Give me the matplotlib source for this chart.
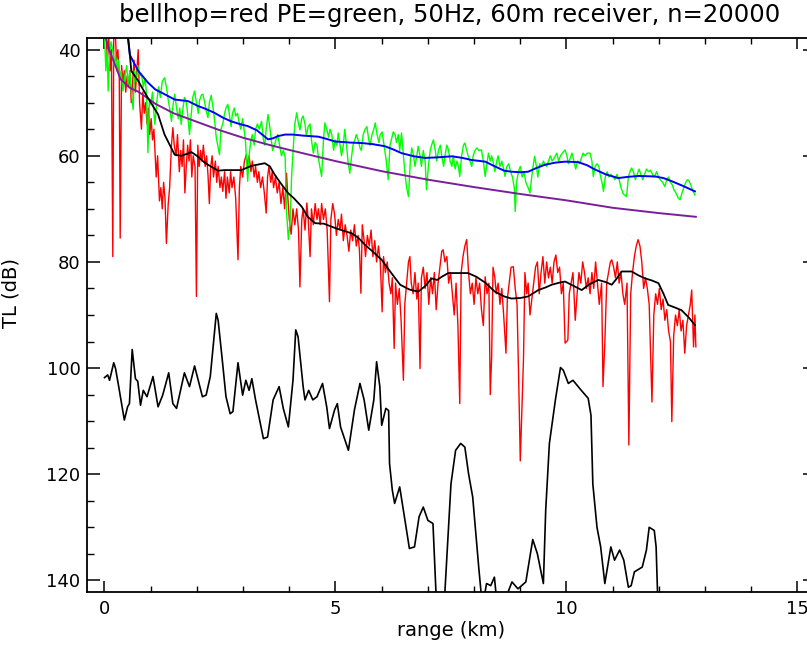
import matplotlib
matplotlib.use("Agg")
import matplotlib.pyplot as plt
from matplotlib.ticker import MultipleLocator

# ---------------- data ----------------
red_km = [0.00,0.03,0.06,0.09,0.12,0.15,0.18,0.20,0.23,0.26,0.29,0.32,0.34,0.37,0.40,0.43,0.46,0.49,0.52,0.55,
          0.58,0.61,0.64,0.67,0.70,0.73,0.76,0.80,0.83,0.86,0.89,0.92,0.95,0.98,1.01,1.04,1.07,1.09,1.12,1.15,
          1.19,1.22,1.25,1.28,1.31,1.34,1.38,1.41,1.45,1.48,1.51,1.55,1.58,1.62,1.65,1.68,1.71,1.74,1.77,1.80,
          1.83,1.86,1.89,1.92,1.96,1.99,2.02,2.05,2.08,2.11,2.14,2.18,2.21,2.24,2.27,2.30,2.33,2.36,2.40,2.43,
          2.46,2.50,2.53,2.56,2.60,2.63,2.66,2.70,2.73,2.76,2.80,2.84,2.89,2.92,2.95,2.99,3.03,3.07,3.10,3.13,
          3.17,3.20,3.24,3.27,3.31,3.34,3.38,3.42,3.46,3.50,3.53,3.56,3.60,3.63,3.66,3.70,3.74,3.78,3.82,3.86,
          3.90,3.94,3.97,4.00,4.04,4.08,4.12,4.16,4.20,4.23,4.27,4.30,4.34,4.38,4.41,4.45,4.48,4.52,4.56,4.60,
          4.63,4.67,4.70,4.74,4.78,4.82,4.87,4.90,4.94,4.98,5.02,5.06,5.10,5.13,5.17,5.21,5.25,5.29,5.33,5.37,
          5.41,5.45,5.49,5.52,5.55,5.58,5.62,5.65,5.69,5.73,5.77,5.81,5.85,5.89,5.93,5.97,6.01,6.04,6.08,6.12,
          6.16,6.20,6.23,6.27,6.30,6.34,6.38,6.42,6.47,6.50,6.54,6.58,6.61,6.64,6.68,6.72,6.76,6.79,6.83,6.86,
          6.90,6.94,6.98,7.02,7.06,7.10,7.14,7.18,7.22,7.26,7.30,7.33,7.37,7.41,7.45,7.49,7.53,7.57,7.61,7.65,
          7.69,7.72,7.76,7.80,7.84,7.88,7.92,7.96,8.00,8.04,8.08,8.12,8.16,8.20,8.24,8.28,8.32,8.35,8.38,8.41,
          8.45,8.48,8.52,8.56,8.60,8.64,8.69,8.72,8.76,8.80,8.85,8.89,8.93,8.97,9.00,9.04,9.07,9.10,9.14,9.17,
          9.21,9.25,9.29,9.33,9.37,9.41,9.45,9.49,9.53,9.57,9.61,9.65,9.69,9.73,9.77,9.81,9.85,9.89,9.93,9.97,
          10.03,10.06,10.10,10.14,10.19,10.23,10.27,10.31,10.35,10.39,10.43,10.47,10.51,10.55,10.59,10.63,10.67,10.71,10.76,10.79,
          10.83,10.87,10.91,10.95,10.98,11.02,11.06,11.10,11.14,11.18,11.22,11.26,11.31,11.35,11.39,11.43,11.47,11.51,11.55,11.59,
          11.63,11.67,11.71,11.75,11.79,11.85,11.89,11.93,11.97,12.01,12.05,12.09,12.13,12.17,12.21,12.25,12.28,12.32,12.36,12.40,
          12.44,12.48,12.52,12.56,12.60,12.64,12.68,12.71,12.75,12.78,12.80]
red_tl = [38,36,42,37,44,40,79,38,36,42,40,45,75.5,43,46,44,48,45,47,44,
          50,46,42,48,44,40,50,55,48,52,50,54,51,56,53,57,55,58.5,64,60,
          68.5,66,70,65,68,76.5,69,66,58,54.7,58,60,56,63,59,62,57,67,62,58,
          61,57,64,60,62,86.5,58,62,59,61,58,62,60,63.5,69,62,60,64,61,65,
          62,66,64,66.7,63,68,64,67,63,66,64,68,79.6,66,62,64,61,59.8,62,60,
          63,61,64,62,65,63,66,64,67,70.8,64,62,65,63,66,64,67,65,69,66,
          70,63.3,68,72,74.8,70,73,70,74,84.7,72,70,74,68.9,72,79,70,73,69,72,
          70,73,69,72,70,74,87.5,72,69,71,75,72,74,71,76,73,75,78,74,76,
          73,77,75,78,85.9,73,76,79,75,77,74,79,76,80,77,80,89.4,79,82,80,
          84,86,83,96.3,84,88,85,91,102.3,88,84,80,79,84,86,82,87,84,100.1,83,
          81,85,82,88,83,86,82,89,84,81,78,77.7,80,79,84,82,86,90,84,92,
          106.7,82,79,77,75.8,82,86,84,88,83,86,84,89,92,82.8,86,84,105,97.9,81,
          83,86,84,88,85,90,97.2,87,84,81,80.9,85,88,104.2,117.5,106.7,98,82,86,84,
          90,87,84,81,80,86,82,79,84,80,83,81,84,80,78.7,82,81,86,84,95.3,
          94.7,86,84,82,91,86,82,84,80,82,85,83,86,82,85,80,84,88,84,103.5,
          95.3,84,82,80,79.6,81,83,80,84,82,86,88,84,114.5,86,82,79,77,75.8,77,
          80,85,83,85,88,106.4,90,86,88,85,89,87,91,89,93,95,110.1,94,90,92,
          89,93,91,97.2,92,90,88,85.3,96,90,96]

green_km = [0.00,0.03,0.06,0.08,0.11,0.14,0.18,0.21,0.24,0.27,0.30,0.33,0.36,0.40,0.44,0.48,0.51,0.55,0.58,0.62,
            0.65,0.69,0.72,0.76,0.80,0.84,0.88,0.91,0.94,0.97,1.00,1.04,1.07,1.09,1.13,1.17,1.21,1.25,1.30,1.34,
            1.38,1.41,1.45,1.49,1.52,1.56,1.60,1.63,1.66,1.70,1.73,1.77,1.81,1.84,1.88,1.91,1.95,1.99,2.03,2.06,
            2.10,2.13,2.17,2.20,2.24,2.27,2.31,2.35,2.38,2.42,2.45,2.49,2.52,2.56,2.60,2.63,2.67,2.70,2.74,2.77,
            2.81,2.84,2.88,2.92,2.95,2.99,3.02,3.05,3.10,3.13,3.17,3.20,3.24,3.27,3.31,3.35,3.40,3.44,3.47,3.50,
            3.54,3.57,3.61,3.64,3.68,3.71,3.75,3.79,3.83,3.87,3.91,3.94,3.98,4.02,4.05,4.09,4.12,4.16,4.20,4.23,
            4.27,4.30,4.34,4.37,4.41,4.45,4.48,4.52,4.56,4.60,4.64,4.70,4.74,4.77,4.81,4.85,4.88,4.92,4.96,4.99,
            5.03,5.06,5.10,5.13,5.17,5.20,5.24,5.27,5.31,5.35,5.38,5.42,5.45,5.49,5.53,5.56,5.60,5.64,5.68,5.72,
            5.75,5.79,5.83,5.86,5.90,5.94,5.97,6.01,6.05,6.10,6.14,6.18,6.21,6.25,6.29,6.32,6.36,6.39,6.43,6.47,
            6.50,6.54,6.58,6.62,6.65,6.69,6.72,6.76,6.79,6.83,6.86,6.90,6.94,6.97,7.01,7.05,7.08,7.12,7.16,7.19,
            7.23,7.27,7.30,7.34,7.37,7.41,7.45,7.48,7.52,7.55,7.59,7.63,7.66,7.69,7.73,7.77,7.80,7.84,7.87,7.91,
            7.95,7.98,8.02,8.06,8.10,8.16,8.20,8.24,8.27,8.31,8.35,8.38,8.42,8.45,8.49,8.52,8.56,8.60,8.64,8.67,
            8.71,8.75,8.79,8.83,8.87,8.89,8.92,8.96,9.00,9.04,9.08,9.12,9.17,9.21,9.26,9.31,9.35,9.38,9.42,9.46,
            9.50,9.53,9.57,9.61,9.65,9.69,9.73,9.79,9.83,9.87,9.91,9.97,10.01,10.04,10.08,10.12,10.16,10.20,10.24,10.28,
            10.32,10.36,10.40,10.45,10.51,10.55,10.58,10.62,10.66,10.70,10.74,10.78,10.80,10.84,10.88,10.92,10.96,11.01,11.05,11.09,
            11.14,11.18,11.23,11.27,11.30,11.34,11.38,11.41,11.45,11.49,11.53,11.57,11.61,11.65,11.69,11.73,11.78,11.82,11.86,11.90,
            11.95,11.99,12.03,12.08,12.13,12.17,12.21,12.25,12.29,12.33,12.37,12.42,12.46,12.50,12.54,12.58,12.62,12.65,12.69,12.73,
            12.78]
green_tl = [37,44,40,47.8,41,38.5,40.2,43,41,44,42,45,44,47.8,45,43,46.5,44,48,51.3,
            44,46,43,45,44.6,47,45.5,48.4,59.4,50,50.3,48,52,54.1,50,47,49,46,45.3,47,
            49.5,51,53.5,50,48.4,51,53,51,54.1,51,49,49.7,53,56.0,52,49,47.8,50,52,49.5,
            48.5,48.4,50,51.5,52.8,50,48.6,51,53,56.6,58,59.8,55,54,52,51,50.3,52,54.5,52,
            51,52.5,52,54,55,53,55,57,64.8,60,57,56,58,55,54,55,53.5,57,58,55,
            52.2,54,57,59,58,57,56,58,60,59,60.1,70.4,75.8,72,63.9,58,54,51.9,54,55.1,
            53,52.5,54,56.2,54.5,54,57,59.5,57.5,58,61,63.9,57,53.8,55,56.5,55,56,59,57,
            58,55.7,58,60,58,55.0,58,61,63.3,60,58,57,56,57,58.5,59,56,55,54.5,57,
            58,56,55,53.8,56,57.5,56,55.5,58,61,64.5,58,57,55.5,56,57.5,56,59,55.7,60,
            63,66,67.7,61,58.5,60,62,60,58.2,60,62,59,61,66.4,62,59,58,57,59,61,
            59,58,60,62,60,58,59,61,62,60,62.5,61,62,63.9,60,58,57.6,59,60,61,
            62,60,59,58.5,59,58.9,61,63.9,62,59.5,61,60,61.5,63,61,60,62,61,62.5,63.9,
            62,61.5,63,64,66,70.5,65,63,62,64,63,65,66,67,63,60.1,62,64,61.5,62,
            61,61.5,62,61,60,61,60.5,59.5,61,60,59.5,58.9,60,61.5,60.5,59.5,61,62.5,61,61.5,
            60.5,59.5,60,59.5,59.5,61,63.9,62,61.5,62,64,65.5,66.7,64,63,64,63.5,64,64.5,63.5,
            64.5,66,67.2,67.5,67.7,64,62.8,62.3,63,64.5,63.5,62.5,63.5,64.5,63.5,62.5,63,62.7,63.5,64,
            63,64,64.5,65,65.8,64.5,64,65,65.5,66.5,67,68,68.3,67,66,65,64.5,64.7,65.5,66.5,
            67.4]

blue_km = [0.50,0.55,0.73,0.94,1.10,1.30,1.52,1.81,2.02,2.20,2.38,2.56,2.74,2.92,3.10,3.30,3.54,3.65,3.75,3.91,
           4.08,4.30,4.63,4.80,4.99,5.30,5.57,5.80,6.07,6.25,6.43,6.70,6.94,7.20,7.52,7.75,7.95,8.24,8.45,8.65,
           8.81,9.00,9.17,9.35,9.53,9.75,9.97,10.26,10.45,10.62,10.85,11.12,11.30,11.55,11.92,12.10,12.28,12.50,12.78]
blue_tl = [37,41,44,46.2,47.5,48.4,49.4,49.7,50.6,51.2,51.9,52.8,53.5,54.0,54.4,55.2,56.9,56.7,56.3,56.0,
           56.0,56.2,56.4,56.8,57.3,57.5,57.6,57.8,58.2,58.8,59.5,60.1,60.4,60.3,60.1,60.4,60.8,61.1,62.0,62.8,
           63.0,63.1,63.0,62.3,61.7,61.3,61.1,61.2,61.8,62.6,63.5,64.2,64.0,63.8,63.9,64.2,64.8,65.6,66.7]

purple_km = [0.0,0.1,0.35,0.55,0.75,1.1,1.5,2.0,2.5,3.0,3.5,4.0,5.0,6.0,7.0,8.0,9.0,10.0,11.0,12.0,12.8]
purple_tl = [37,40,45.6,47.2,48.0,50.2,52.0,53.6,55.2,56.6,57.8,58.9,61.0,62.9,64.5,65.9,67.2,68.4,69.8,70.8,71.5]

smooth_km = [0.50,0.55,0.58,0.73,0.94,1.16,1.30,1.52,1.66,1.80,1.88,2.00,2.17,2.30,2.46,2.60,2.80,2.96,3.18,3.47,
             3.58,3.68,3.80,3.97,4.10,4.27,4.40,4.56,4.75,4.99,5.20,5.35,5.50,5.64,5.80,6.00,6.20,6.40,6.60,6.79,
             6.95,7.08,7.20,7.30,7.44,7.60,7.87,8.05,8.24,8.45,8.65,8.81,9.00,9.17,9.30,9.39,9.55,9.68,9.85,9.97,
             10.15,10.33,10.50,10.69,10.85,10.98,11.10,11.19,11.41,11.55,11.70,11.85,11.99,12.10,12.20,12.35,12.49,12.65,12.78]
smooth_tl = [37,41,44,45.9,49.1,52.2,56.0,59.8,60.0,59.6,59.3,60.0,61.3,62.0,62.8,62.7,62.7,62.7,61.9,61.4,
             62.0,63.5,65.0,67.0,68.0,69.6,71.5,72.7,72.8,73.6,74.2,74.6,75.5,76.8,78.0,79.6,82.0,84.3,85.2,85.6,
             84.5,83.1,83.4,82.8,82.1,82.1,82.1,82.8,83.9,85.6,86.5,86.9,86.8,86.5,85.8,85.3,84.8,84.3,83.9,83.7,
             84.5,85.3,84.2,83.4,83.8,84.3,83.0,81.8,81.8,82.5,83.1,83.5,84.0,86.0,88.1,88.6,89.1,90.5,91.9]

diff_km = [0.00,0.07,0.11,0.20,0.24,0.31,0.43,0.50,0.54,0.60,0.67,0.72,0.78,0.84,0.92,1.05,1.16,1.26,1.39,1.48,
           1.56,1.73,1.84,1.95,2.12,2.20,2.29,2.42,2.46,2.55,2.63,2.72,2.78,2.89,2.99,3.06,3.13,3.19,3.27,3.44,
           3.53,3.65,3.78,3.87,3.98,4.08,4.14,4.19,4.30,4.34,4.42,4.51,4.60,4.72,4.81,4.87,4.98,5.04,5.11,5.28,
           5.41,5.53,5.62,5.72,5.83,5.89,5.96,6.00,6.09,6.15,6.17,6.23,6.28,6.39,6.47,6.60,6.71,6.81,6.90,7.00,
           7.11,7.17,7.22,7.33,7.37,7.50,7.60,7.71,7.80,7.88,7.97,8.10,8.18,8.27,8.36,8.44,8.48,8.60,8.70,8.82,
           8.95,9.12,9.27,9.37,9.50,9.55,9.63,9.76,9.87,9.93,10.04,10.14,10.32,10.47,10.53,10.57,10.66,10.74,10.83,10.96,
           11.04,11.15,11.24,11.34,11.40,11.47,11.64,11.73,11.79,11.90,11.94,11.96,12.00]
diff_tl = [101.8,101.3,102.3,99.0,100.1,103.6,109.8,107.3,106.7,96.5,102.0,102.5,107.0,104.2,105.4,101.6,107.3,105.1,100.9,106.7,
           107.6,100.9,103.5,99.6,105.4,105.1,101.6,89.7,91.0,98.5,105.4,108.6,108.2,99.0,105.1,102.3,104.2,102.0,106.0,113.3,
           113.0,106.0,103.5,107.6,111.1,102.3,92.8,94.1,103.5,106.0,104.2,106.0,105.4,102.9,107.3,111.4,107.9,106.7,111.1,115.5,
           107.9,102.9,106.0,111.7,106.0,98.8,103.5,110.8,107.6,108.0,118.0,123.0,125.5,122.4,126.8,134.0,133.7,128.0,126.2,128.7,
           129.3,141.3,150.0,150.0,141.9,121.8,115.5,114.2,114.9,119.9,124.3,137.5,145.0,140.6,141.0,139.4,143.0,145.0,143.0,140.3,
           141.6,140.3,132.3,135.0,140.6,126.8,114.2,106.0,99.9,100.4,102.9,102.3,104.2,105.7,108.9,121.8,130.0,133.7,140.6,133.7,
           136.2,134.3,136.2,141.3,141.0,138.4,137.5,134.3,130.0,130.6,133.7,139.4,150.0]

x_ticks = [0, 5, 10, 15]
y_ticks = [40, 60, 80, 100, 120, 140]
title_text = "bellhop=red PE=green, 50Hz, 60m receiver, n=20000"

# ---------------- figure ----------------
plt.rcParams['font.family'] = ['DejaVu Sans']
fig = plt.figure(figsize=(8.07, 6.47), dpi=100)
ax = fig.add_axes([0.1084, 0.0850, 0.901, 0.8563])

lw = 1.0
ax.plot(red_km, red_tl, color='#ff0000', lw=lw)
ax.plot(green_km, green_tl, color='#00ff00', lw=lw)
ax.plot(purple_km, purple_tl, color='#7a1f9a', lw=1.4)
ax.plot(blue_km, blue_tl, color='#0000ff', lw=1.4)
ax.plot(smooth_km, smooth_tl, color='black', lw=1.3)
ax.plot(diff_km, diff_tl, color='black', lw=1.2)

ax.set_xlim(-0.368, 15.37)
ax.set_ylim(142.2, 37.8)
ax.set_xticks(x_ticks)
ax.set_yticks(y_ticks)
ax.xaxis.set_minor_locator(MultipleLocator(1))
ax.yaxis.set_minor_locator(MultipleLocator(5))
ax.tick_params(axis='x', which='major', direction='in', length=8, width=1.1, top=True, labelsize=13, pad=6)
ax.tick_params(axis='x', which='minor', direction='in', length=4.5, width=1.0, top=True)
ax.tick_params(axis='y', which='major', direction='in', length=9, width=1.1, right=True, labelsize=13, pad=5)
ax.tick_params(axis='y', which='minor', direction='in', length=5, width=1.0, right=True)
for s in ax.spines.values():
    s.set_linewidth(1.3)

ax.set_xlabel('range (km)', fontsize=14, labelpad=2)
ax.set_ylabel('TL (dB)', fontsize=14)
ax.yaxis.set_label_coords(-0.092, 0.54)
fig.text(450 / 807, 1 - 15 / 647, title_text, fontsize=17.5, ha='center', va='center')

fig.savefig('out.png', dpi=100)
